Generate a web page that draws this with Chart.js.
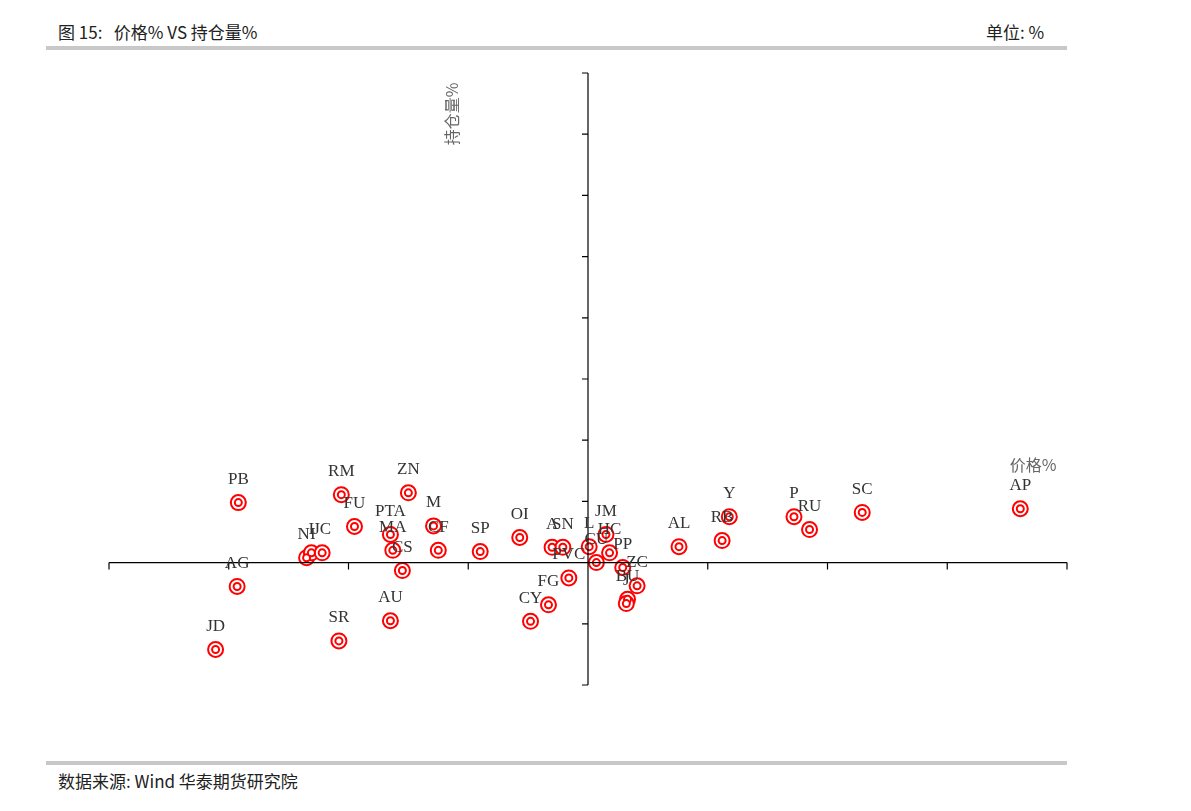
<!DOCTYPE html>
<html><head><meta charset="utf-8">
<script src="https://cdn.jsdelivr.net/npm/chart.js@4"></script>
<style>
body{margin:0;background:#fff;width:1191px;height:811px;position:relative;overflow:hidden;font-family:"Noto Sans CJK SC","Liberation Serif",serif;}
.t{position:absolute;font-size:17px;color:#222;}
.line{position:absolute;left:46px;width:1021px;height:4px;background:#c8c8c8;}
canvas{position:absolute;left:0;top:0;}
</style></head><body>
<div class="t" style="left:58px;top:19px;">图 15:&nbsp;&nbsp;&nbsp;价格% VS 持仓量%</div>
<div class="t" style="left:986px;top:19px;">单位: %</div>
<div class="line" style="top:46px;"></div>
<div class="line" style="top:761px;"></div>
<div class="t" style="left:58px;top:768px;">数据来源: Wind 华泰期货研究院</div>
<canvas id="c" width="1191" height="811"></canvas>
<script>
const names = ['PB','RM','ZN','FU','PTA','M','MA','CF','CS','SP','OI','AG','JD','SR','AU','NI','I','JC','A','SN','PVC','FG','CY','L','CU','JM','HC','PP','ZC','BU','J','AL','RB','Y','P','RU','SC','AP'];
const price = [-2.92,-2.06,-1.5,-1.95,-1.65,-1.29,-1.63,-1.25,-1.55,-0.9,-0.57,-2.93,-3.11,-2.08,-1.65,-2.35,-2.31,-2.22,-0.3,-0.21,-0.16,-0.33,-0.48,0.01,0.07,0.15,0.18,0.29,0.41,0.33,0.32,0.76,1.12,1.18,1.72,1.85,2.29,3.61];
const openInt = [0.98,1.11,1.14,0.59,0.46,0.6,0.2,0.2,-0.13,0.18,0.41,-0.39,-1.42,-1.28,-0.95,0.08,0.16,0.16,0.25,0.25,-0.25,-0.69,-0.96,0.26,0,0.46,0.16,-0.08,-0.38,-0.6,-0.67,0.26,0.36,0.75,0.75,0.54,0.82,0.88];
const xTicks = [-4,-3,-2,-1,0,1,2,3,4];
const yTicks = [-2,-1,0,1,2,3,4,5,6,7,8];

const pts = price.map((x, i) => ({x: x, y: openInt[i]}));

const axesPlugin = {
  id: 'axes',
  afterDatasetsDraw(chart) {
    const ctx = chart.ctx, xs = chart.scales.x, ys = chart.scales.y;
    const x0 = xs.getPixelForValue(0), y0 = ys.getPixelForValue(0);
    ctx.save();
    ctx.strokeStyle = '#000'; ctx.lineWidth = 1.2;
    ctx.beginPath();
    ctx.moveTo(xs.left, y0); ctx.lineTo(xs.right, y0);
    ctx.moveTo(x0, ys.top); ctx.lineTo(x0, ys.bottom);
    xTicks.forEach(v => { const p = xs.getPixelForValue(v); ctx.moveTo(p, y0); ctx.lineTo(p, y0 + 7); });
    yTicks.forEach(v => { const p = ys.getPixelForValue(v); ctx.moveTo(x0 - 6, p); ctx.lineTo(x0, p); });
    ctx.stroke();
    // labels
    ctx.fillStyle = '#333'; ctx.font = '17px "Liberation Serif", serif';
    ctx.textAlign = 'center'; ctx.textBaseline = 'middle';
    pts.forEach((p, i) => {
      ctx.fillText(names[i], xs.getPixelForValue(p.x), ys.getPixelForValue(p.y) - 23);
    });
    ctx.fillStyle = '#666'; ctx.font = '16px "Noto Sans CJK SC", serif';
    ctx.fillText('价格%', 1033, 465);
    ctx.translate(452, 114); ctx.rotate(-Math.PI / 2);
    ctx.fillText('持仓量%', 0, 0);
    ctx.restore();
  }
};

new Chart(document.getElementById('c'), {
  type: 'scatter',
  data: { datasets: [
    { data: pts, order: 1, pointRadius: 7.5, pointBorderWidth: 2, pointBorderColor: '#f00', pointBackgroundColor: '#fff' },
    { data: pts, order: 0, pointRadius: 3.5, pointBorderWidth: 2, pointBorderColor: '#f00', pointBackgroundColor: '#fff' }
  ]},
  options: {
    responsive: false, animation: false,
    layout: { padding: { left: 109, right: 124, top: 73, bottom: 126 } },
    plugins: { legend: { display: false }, tooltip: { enabled: false } },
    scales: {
      x: { type: 'linear', min: -4, max: 4, display: false },
      y: { type: 'linear', min: -2, max: 8, display: false }
    }
  },
  plugins: [axesPlugin]
});
</script>
</body></html>
